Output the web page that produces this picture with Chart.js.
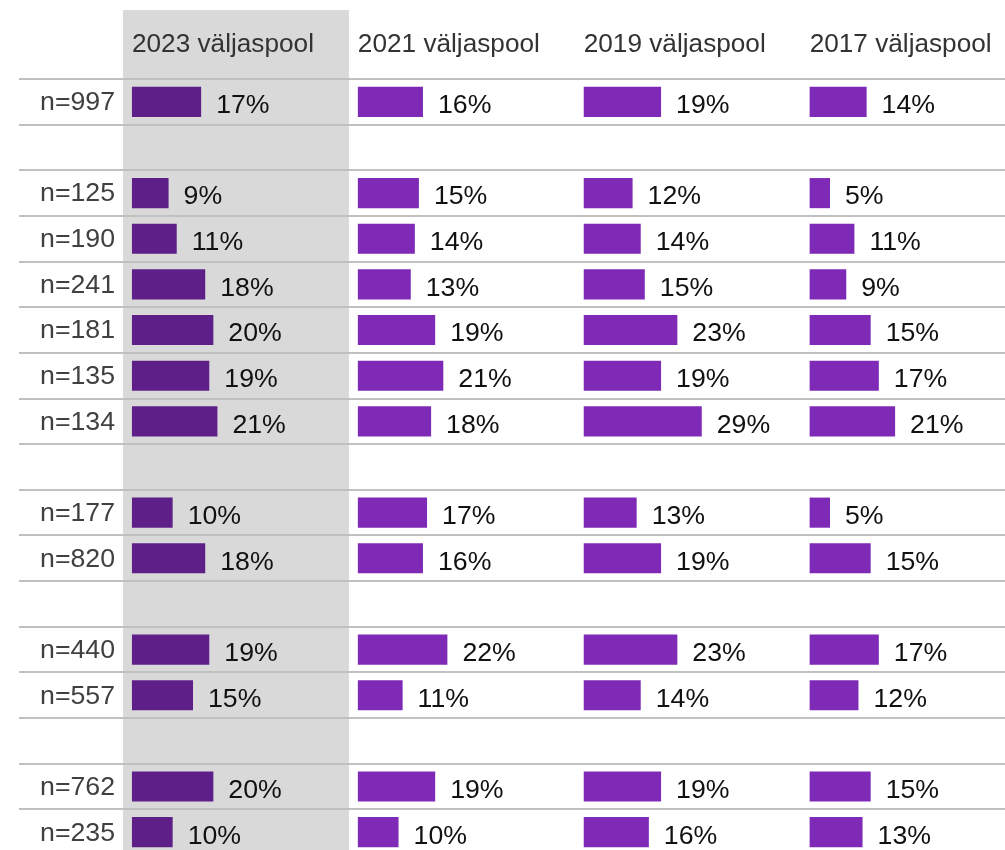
<!DOCTYPE html>
<html>
<head>
<meta charset="utf-8">
<script src="https://cdn.jsdelivr.net/npm/chart.js@4.4.1/dist/chart.umd.min.js"></script>
<style>
  html, body { margin: 0; padding: 0; background: #fff; overflow: hidden; }
  #wrap { position: relative; width: 1005px; height: 862px; }
</style>
</head>
<body>
<div id="wrap"><canvas id="myChart"></canvas></div>
<script>
// row labels (empty strings are the spacer rows between groups)
const rowLabels = ["n=997", "", "n=125", "n=190", "n=241", "n=181", "n=135", "n=134", "",
  "n=177", "n=820", "", "n=440", "n=557", "", "n=762", "n=235"];

const columnHeaders = ["2023 väljaspool", "2021 väljaspool", "2019 väljaspool", "2017 väljaspool"];

const values2023 = [17, null, 9, 11, 18, 20, 19, 21, null, 10, 18, null, 19, 15, null, 20, 10];
const values2021 = [16, null, 15, 14, 13, 19, 21, 18, null, 17, 16, null, 22, 11, null, 19, 10];
const values2019 = [19, null, 12, 14, 15, 23, 19, 29, null, 13, 19, null, 23, 14, null, 19, 16];
const values2017 = [14, null, 5, 11, 9, 15, 17, 21, null, 5, 15, null, 17, 12, null, 15, 13];

const seriesValues = [values2023, values2021, values2019, values2017];
const barColors = ["#5e1f88", "#7f2ab6", "#7f2ab6", "#7f2ab6"];

// each column is a slice of the same x scale (in % units)
const COL_WIDTH = 55.5;
const BAR_INSET = 2.2;
const X_MAX = 216.7;
const FONT = "'Liberation Sans', Arial, sans-serif";

const colStart = (i) => i * COL_WIDTH + BAR_INSET;

const datasets = seriesValues.map((vals, i) => ({
  label: columnHeaders[i],
  data: vals.map(v => (v == null ? null : [colStart(i), colStart(i) + v])),
  backgroundColor: barColors[i],
  borderWidth: 0,
  grouped: false,
  barPercentage: 0.66,
  categoryPercentage: 1,
}));

// grey background behind the 2023 column
const bandPlugin = {
  id: "band",
  beforeDraw(chart) {
    const { ctx, scales } = chart;
    const x0 = scales.x.getPixelForValue(0);
    const x1 = scales.x.getPixelForValue(COL_WIDTH);
    ctx.save();
    ctx.fillStyle = "#d9d9d9";
    ctx.fillRect(x0, 10, x1 - x0, chart.height - 10);
    ctx.restore();
  }
};

// "17%" style labels after each bar
const valueLabels = {
  id: "valueLabels",
  afterDatasetsDraw(chart) {
    const { ctx } = chart;
    ctx.save();
    ctx.font = "26.7px " + FONT;
    ctx.fillStyle = "#111111";
    ctx.textAlign = "left";
    ctx.textBaseline = "middle";
    chart.data.datasets.forEach((ds, di) => {
      const meta = chart.getDatasetMeta(di);
      meta.data.forEach((bar, i) => {
        const v = seriesValues[di][i];
        if (v == null) return;
        ctx.fillText(v + "%", bar.x + 15, bar.y + 4);
      });
    });
    ctx.restore();
  }
};

const ctx = document.getElementById("myChart").getContext("2d");
new Chart(ctx, {
  type: "bar",
  data: { labels: rowLabels, datasets: datasets },
  plugins: [bandPlugin, valueLabels],
  options: {
    indexAxis: "y",
    responsive: true,
    maintainAspectRatio: false,
    animation: false,
    events: [],
    layout: { padding: { left: 19, right: 0, top: 0, bottom: 7 } },
    plugins: {
      legend: { display: false },
      tooltip: { enabled: false }
    },
    scales: {
      x: {
        type: "linear",
        position: "top",
        min: 0,
        max: X_MAX,
        grid: { display: false },
        border: { display: false },
        afterBuildTicks: (scale) => {
          scale.ticks = columnHeaders.map((h, i) => ({ value: colStart(i) }));
        },
        afterFit: (scale) => { scale.height = 79; },
        ticks: {
          autoSkip: false,
          maxRotation: 0,
          align: "start",
          padding: 11,
          color: "#333333",
          font: { size: 26.2, family: FONT },
          callback: (val, i) => columnHeaders[i]
        }
      },
      y: {
        type: "category",
        offset: true,
        grid: {
          offset: true,
          color: "#c0c0c0",
          lineWidth: 2,
          drawTicks: true,
          tickLength: 104
        },
        border: { display: false },
        afterFit: (scale) => { scale.width = 104; },
        ticks: {
          padding: -96,
          labelOffset: 1,
          color: "#404040",
          font: { size: 26.7, family: FONT }
        }
      }
    }
  }
});
</script>
</body>
</html>
